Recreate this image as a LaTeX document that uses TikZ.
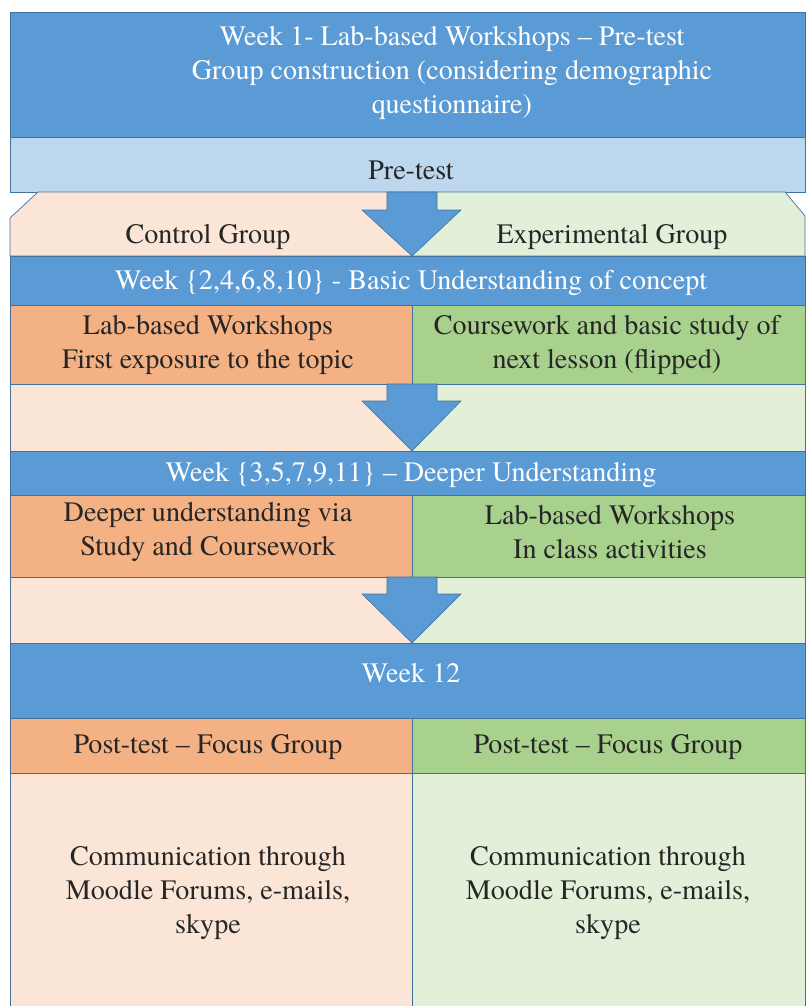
\documentclass[tikz,border=0pt]{standalone}
\usepackage{fontspec}
\setmainfont{texgyretermes}[Extension=.otf,UprightFont=*-regular,BoldFont=*-bold,
  ItalicFont=*-italic,BoldItalicFont=*-bolditalic]
\usepackage{tikz}

\definecolor{bandblue}{RGB}{91,155,213}
\definecolor{edgeblue}{RGB}{65,113,156}
\definecolor{prebg}{RGB}{189,215,238}
\definecolor{pinklight}{RGB}{251,229,214}
\definecolor{greenlight}{RGB}{226,240,217}
\definecolor{orangecell}{RGB}{244,177,131}
\definecolor{greencell}{RGB}{169,209,142}

% down arrow between two rows: top, head, tip
\newcommand{\flowarrow}[3]{\filldraw[fill=bandblue,draw=edgeblue,line width=0.4pt]
  (387,#1) -- (437,#1) -- (437,#2) -- (461,#2) -- (412,#3) -- (362,#2) -- (387,#2) -- cycle;}

\begin{document}
\begin{tikzpicture}[x=0.025cm,y=-0.025cm,
    edge/.style={draw=edgeblue,line width=0.5pt},
    bandtext/.style={text=white,align=center,font=\rmfamily\fontsize{20}{24}\selectfont},
    celltext/.style={text=black!85,align=center,font=\rmfamily\fontsize{20}{24}\selectfont}]
  \useasboundingbox (0,0) rectangle (805,1006);

  \filldraw[edge,fill=bandblue] (10,12) rectangle (805,137);
  \filldraw[edge,fill=prebg] (10,137) rectangle (805,192);
  \filldraw[edge,fill=pinklight] (10,218) -- (38,192) -- (412,192) -- (412,256) -- (10,256) -- cycle;
  \filldraw[edge,fill=greenlight] (412,192) -- (785,192) -- (805,216) -- (805,256) -- (412,256) -- cycle;
  \filldraw[edge,fill=bandblue] (10,256) rectangle (805,305);
  \filldraw[edge,fill=orangecell] (10,305) rectangle (412,384);
  \filldraw[edge,fill=greencell] (412,305) rectangle (805,384);
  \filldraw[edge,fill=pinklight] (10,384) rectangle (412,451);
  \filldraw[edge,fill=greenlight] (412,384) rectangle (805,451);
  \filldraw[edge,fill=bandblue] (10,451) rectangle (805,495);
  \filldraw[edge,fill=orangecell] (10,495) rectangle (412,577);
  \filldraw[edge,fill=greencell] (412,495) rectangle (805,577);
  \filldraw[edge,fill=pinklight] (10,577) rectangle (412,643);
  \filldraw[edge,fill=greenlight] (412,577) rectangle (805,643);
  \filldraw[edge,fill=bandblue] (10,643) rectangle (805,718);
  \filldraw[edge,fill=orangecell] (10,718) rectangle (412,773);
  \filldraw[edge,fill=greencell] (412,718) rectangle (805,773);
  \filldraw[edge,fill=pinklight] (10,773) rectangle (412,1012);
  \filldraw[edge,fill=greenlight] (412,773) rectangle (805,1012);

  \flowarrow{192}{210}{256}
  \flowarrow{384}{401}{451}
  \flowarrow{577}{594}{643}

  \node[bandtext] (week1) at (452,73) {Week 1- Lab-based Workshops -- Pre-test\\
    Group construction (considering demographic\\ questionnaire)};
  \node[celltext] (pretest) at (411,170) {Pre-test};
  \node[celltext] (control) at (208,237) {Control Group};
  \node[celltext] (experimental) at (612,237) {Experimental Group};
  \node[bandtext] (basic) at (411,283) {Week \{2,4,6,8,10\} - Basic Understanding of concept};
  \node[celltext] (labws) at (208,345) {Lab-based Workshops\\ First exposure to the topic};
  \node[celltext] (flipped) at (607,345) {Coursework and basic study of\\ next lesson (flipped)};
  \node[bandtext] (deeper) at (411,475) {Week \{3,5,7,9,11\} -- Deeper Understanding};
  \node[celltext] (study) at (208,532) {Deeper understanding via\\ Study and Coursework};
  \node[celltext] (inclass) at (610,532) {Lab-based Workshops\\ In class activities};
  \node[bandtext] (week12) at (411,673) {Week 12};
  \node[celltext] (postleft) at (208,747) {Post-test -- Focus Group};
  \node[celltext] (postright) at (608,747) {Post-test -- Focus Group};
  \node[celltext] (commleft) at (208,893) {Communication through\\ Moodle Forums, e-mails,\\ skype};
  \node[celltext] (commright) at (608,893) {Communication through\\ Moodle Forums, e-mails,\\ skype};
\end{tikzpicture}
\end{document}
